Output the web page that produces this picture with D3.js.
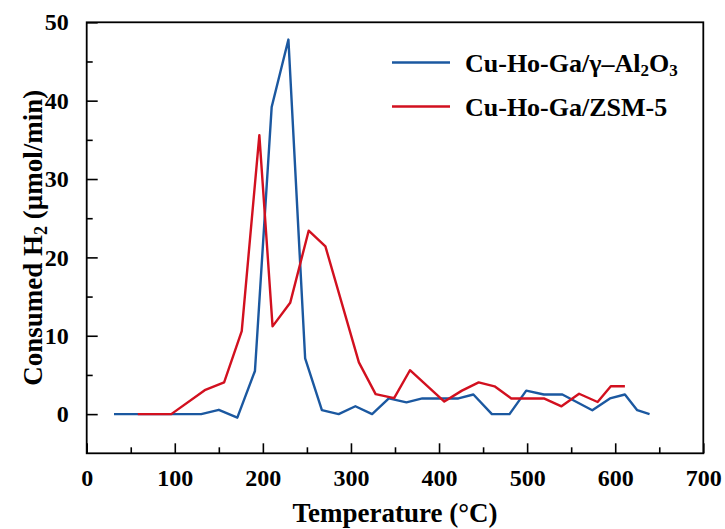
<!DOCTYPE html>
<html>
<head>
<meta charset="utf-8">
<script src="https://cdn.jsdelivr.net/npm/d3@7"></script>
<style>
  body { margin: 0; background: #fff; }
  text { font-family: "Liberation Serif", "Times New Roman", serif; font-weight: bold; }
</style>
</head>
<body>
<script>
// temperature (C) / consumed H2
var aluminaTemp = [31, 130, 150, 171, 191, 210, 229, 248, 267, 286, 305, 324, 343, 363, 381, 422, 439, 460, 480, 499, 519, 540, 574, 594, 611, 625, 639];
var aluminaH2   = [0, 0, 0.55, -0.45, 5.5, 39.2, 47.8, 7.1, 0.5, 0, 1.0, 0, 2.0, 1.5, 2.0, 2.0, 2.5, 0, 0, 3.0, 2.5, 2.5, 0.5, 2.0, 2.5, 0.5, 0];

var zsmTemp = [58, 96, 134, 156, 176, 196, 211, 231, 252, 271, 309, 328, 349, 367, 406, 426, 445, 463, 482, 519, 539, 559, 580, 595, 611];
var zsmH2   = [0, 0, 3.05, 4.05, 10.6, 35.6, 11.2, 14.2, 23.4, 21.4, 6.6, 2.55, 2.05, 5.6, 1.6, 3.0, 4.05, 3.55, 2.0, 2.0, 1.0, 2.6, 1.55, 3.55, 3.55];

var xTicks = [0, 100, 200, 300, 400, 500, 600, 700];
var yTicks = [0, 10, 20, 30, 40, 50];

var W = 725, H = 529;
var padL = 86.7, padR = 703.3, padT = 22.3, padB = 453.3;

var svg = d3.select('body').append('svg')
  .attr('width', W)
  .attr('height', H);

var x = d3.scaleLinear().domain([0, 700]).range([padL, padR]);
var y = d3.scaleLinear().domain([-5, 50]).range([padB, padT]);

function pairs(t, v){
  return t.map(function(d, i){ return [d, v[i]]; });
}

var line = d3.line()
  .x(function(d){ return x(d[0]); })
  .y(function(d){ return y(d[1]); });

var series = [
  {name: 'alumina', data: pairs(aluminaTemp, aluminaH2), color: '#1b58a0'},
  {name: 'zsm',     data: pairs(zsmTemp, zsmH2),         color: '#d2101f'}
];

svg.selectAll('path.series')
  .data(series)
  .enter()
  .append('path')
    .attr('class', 'series')
    .attr('d', function(d){ return line(d.data); })
    .attr('fill', 'none')
    .attr('stroke', function(d){ return d.color; })
    .attr('stroke-width', 2.4)
    .attr('stroke-linejoin', 'round');

// axes: ticks point inward, minor ticks halfway
var xAxis = d3.axisBottom(x)
  .tickValues(d3.range(0, 701, 50))
  .tickSize(-10)
  .tickPadding(16)
  .tickFormat(function(d){ return xTicks.indexOf(d) >= 0 ? d : ''; });

var gx = svg.append('g')
  .attr('transform', 'translate(0,' + padB + ')')
  .call(xAxis);
gx.selectAll('.tick line')
  .attr('y2', function(d){ return d % 100 === 0 ? -10 : -6; });

var yAxis = d3.axisLeft(y)
  .tickValues(d3.range(0, 51, 5))
  .tickSize(-11)
  .tickPadding(18)
  .tickFormat(function(d){ return yTicks.indexOf(d) >= 0 ? d : ''; });

var gy = svg.append('g')
  .attr('transform', 'translate(' + padL + ',0)')
  .call(yAxis);
gy.selectAll('.tick line')
  .attr('x2', function(d){ return d % 10 === 0 ? 11 : 6; });

svg.selectAll('.domain').remove();
svg.selectAll('.tick line').attr('stroke', '#000').attr('stroke-width', 1.6);
svg.selectAll('.tick text')
  .attr('fill', '#000')
  .style('font-size', '24px')
  .style('font-family', '"Liberation Serif", serif')
  .style('font-weight', 'bold');

// frame
svg.append('rect')
  .attr('x', padL)
  .attr('y', padT)
  .attr('width', padR - padL)
  .attr('height', padB - padT)
  .attr('fill', 'none')
  .attr('stroke', '#000')
  .attr('stroke-width', 1.8);

// axis titles
svg.append('text')
  .attr('x', (padL + padR) / 2)
  .attr('y', 522)
  .attr('text-anchor', 'middle')
  .style('font-size', '27px')
  .text('Temperature (°C)');

var yt = svg.append('text')
  .attr('transform', 'translate(42,' + ((padT + padB) / 2) + ') rotate(-90)')
  .attr('text-anchor', 'middle')
  .style('font-size', '27px');
yt.append('tspan').text('Consumed H');
yt.append('tspan').attr('baseline-shift', '-25%').style('font-size', '18px').text('2');
yt.append('tspan').text(' (µmol/min)');

// legend
var legend = [
  {color: '#1b58a0', parts: [['Cu-Ho-Ga/γ–Al', 0], ['2', 1], ['O', 0], ['3', 1]]},
  {color: '#d2101f', parts: [['Cu-Ho-Ga/ZSM-5', 0]]}
];

var lg = svg.selectAll('g.legend')
  .data(legend)
  .enter()
  .append('g')
    .attr('class', 'legend')
    .attr('transform', function(d, i){ return 'translate(392,' + (62.5 + i * 44) + ')'; });

lg.append('line')
  .attr('x1', 0).attr('x2', 58)
  .attr('stroke', function(d){ return d.color; })
  .attr('stroke-width', 2.4);

lg.append('text')
  .attr('x', 73)
  .attr('y', 9)
  .style('font-size', '26px')
  .each(function(d){
    var t = d3.select(this);
    d.parts.forEach(function(p){
      var s = t.append('tspan').text(p[0]);
      if (p[1]) s.attr('baseline-shift', '-25%').style('font-size', '17px');
    });
  });
</script>
</body>
</html>
